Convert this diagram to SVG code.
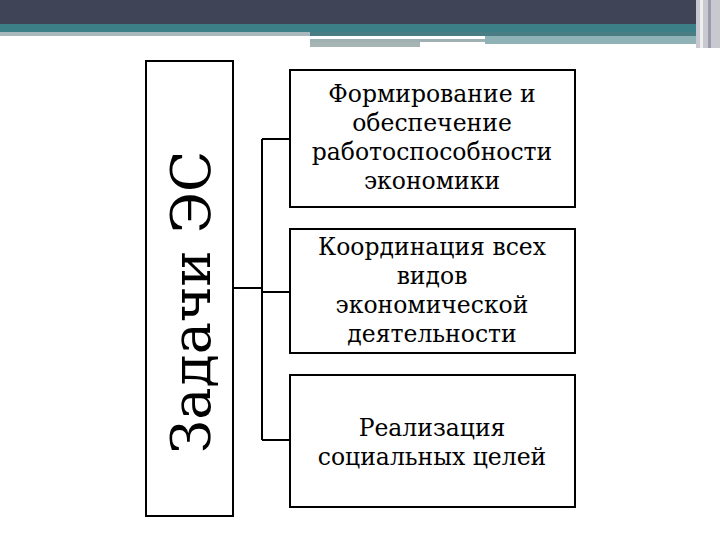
<svg xmlns="http://www.w3.org/2000/svg" width="720" height="540" viewBox="0 0 720 540">
<style>
.box{fill:#fff;stroke:#000;stroke-width:2}
.t{font-family:"DejaVu Serif",serif;font-size:23.5px;text-anchor:middle;fill:#000}
.c{fill:none;stroke:#000;stroke-width:2}
</style>
<rect width="720" height="540" fill="#fff"/>
<g id="header">
<rect x="0" y="0" width="720" height="24" fill="#3f4456"/>
<rect x="0" y="24" width="720" height="8" fill="#3d7f86"/>
<rect x="0" y="32" width="310" height="4" fill="#a9b8bd"/>
<rect x="310" y="32" width="400" height="4" fill="#4a7e84"/>
<rect x="310" y="36" width="175" height="3" fill="#ffffff"/>
<rect x="310" y="39" width="175" height="3" fill="#9fb1b3"/>
<rect x="310" y="42" width="110" height="5" fill="#a6b4b4"/>
<rect x="485" y="36" width="225" height="8" fill="#8fb2b6"/>
<rect x="696" y="0" width="24" height="48" fill="#c8c8d0"/>
<rect x="700" y="0" width="3" height="48" fill="#eeeeee"/>
<rect x="708" y="0" width="3" height="48" fill="#9a9aa8"/>
</g>
<g id="connectors">
<path class="c" d="M233 288 H262 M262 139 V440 M262 139 H290 M262 292 H290 M262 440 H290"/>
</g>
<g id="root">
<rect class="box" x="146" y="61" width="87" height="455"/>
<text transform="translate(210 302) rotate(-90)" font-family="'DejaVu Serif',serif" font-size="54" text-anchor="middle">Задачи ЭС</text>
</g>
<g id="n1">
<rect class="box" x="290" y="70" width="285" height="137"/>
<text class="t" x="432" y="102">Формирование и</text>
<text class="t" x="432" y="131">обеспечение</text>
<text class="t" x="432" y="160">работоспособности</text>
<text class="t" x="432" y="189">экономики</text>
</g>
<g id="n2">
<rect class="box" x="290" y="229" width="285" height="124"/>
<text class="t" x="432" y="255">Координация всех</text>
<text class="t" x="432" y="284">видов</text>
<text class="t" x="432" y="313">экономической</text>
<text class="t" x="432" y="342">деятельности</text>
</g>
<g id="n3">
<rect class="box" x="290" y="375" width="285" height="132"/>
<text class="t" x="432" y="436">Реализация</text>
<text class="t" x="432" y="465">социальных целей</text>
</g>
</svg>
